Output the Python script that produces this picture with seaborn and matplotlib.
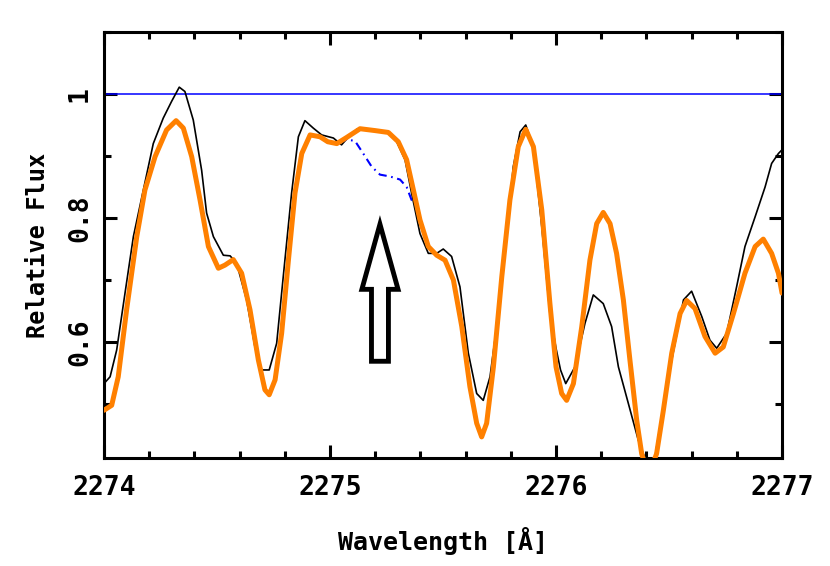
import matplotlib
matplotlib.use("Agg")
import matplotlib.pyplot as plt
from matplotlib.patches import FancyArrow
from matplotlib.ticker import MultipleLocator, FuncFormatter
import seaborn as sns

# observed spectrum (black)
obs_wave = [2274.000, 2274.027, 2274.056, 2274.093, 2274.130, 2274.174, 2274.218,
            2274.262, 2274.299, 2274.333, 2274.358, 2274.395, 2274.432, 2274.454,
            2274.484, 2274.528, 2274.558, 2274.587, 2274.631, 2274.668, 2274.698,
            2274.731, 2274.764, 2274.793, 2274.830, 2274.860, 2274.889, 2274.926,
            2274.963, 2275.015, 2275.051, 2275.080, 2275.118, 2275.185, 2275.251,
            2275.295, 2275.332, 2275.361, 2275.398, 2275.435, 2275.472, 2275.501,
            2275.538, 2275.575, 2275.612, 2275.649, 2275.678, 2275.708, 2275.745,
            2275.782, 2275.811, 2275.841, 2275.866, 2275.900, 2275.937, 2275.973,
            2276.000, 2276.020, 2276.043, 2276.084, 2276.128, 2276.165, 2276.209,
            2276.246, 2276.276, 2276.320, 2276.364, 2276.394, 2276.415, 2276.438,
            2276.475, 2276.512, 2276.564, 2276.600, 2276.645, 2276.681, 2276.711,
            2276.755, 2276.799, 2276.836, 2276.881, 2276.925, 2276.954, 2276.984,
            2277.000]
obs_flux = [0.533, 0.544, 0.587, 0.679, 0.770, 0.845, 0.920,
            0.961, 0.988, 1.011, 1.004, 0.958, 0.877, 0.808,
            0.770, 0.740, 0.739, 0.727, 0.668, 0.592, 0.555,
            0.555, 0.598, 0.705, 0.840, 0.931, 0.957, 0.945,
            0.934, 0.929, 0.918, 0.930, 0.943, 0.941, 0.939,
            0.923, 0.894, 0.840, 0.775, 0.743, 0.743, 0.750,
            0.738, 0.689, 0.582, 0.517, 0.506, 0.544, 0.646,
            0.775, 0.883, 0.939, 0.950, 0.915, 0.786, 0.646,
            0.590, 0.555, 0.533, 0.560, 0.630, 0.676, 0.662,
            0.625, 0.560, 0.501, 0.442, 0.412, 0.400, 0.415,
            0.495, 0.571, 0.668, 0.682, 0.641, 0.603, 0.590,
            0.614, 0.689, 0.754, 0.802, 0.850, 0.888, 0.904,
            0.910]

# synthetic spectrum (orange)
syn_wave = [2274.000, 2274.034, 2274.063, 2274.100, 2274.145, 2274.181, 2274.226,
            2274.277, 2274.319, 2274.351, 2274.388, 2274.425, 2274.462, 2274.506,
            2274.535, 2274.572, 2274.609, 2274.646, 2274.683, 2274.712, 2274.731,
            2274.757, 2274.786, 2274.816, 2274.845, 2274.875, 2274.912, 2274.956,
            2274.990, 2275.030, 2275.074, 2275.133, 2275.199, 2275.258, 2275.302,
            2275.339, 2275.369, 2275.398, 2275.435, 2275.472, 2275.509, 2275.546,
            2275.583, 2275.619, 2275.649, 2275.671, 2275.693, 2275.723, 2275.760,
            2275.796, 2275.833, 2275.866, 2275.900, 2275.937, 2275.973, 2276.000,
            2276.025, 2276.047, 2276.077, 2276.114, 2276.150, 2276.180, 2276.209,
            2276.239, 2276.268, 2276.298, 2276.327, 2276.357, 2276.379, 2276.410,
            2276.445, 2276.475, 2276.512, 2276.549, 2276.578, 2276.615, 2276.659,
            2276.704, 2276.740, 2276.785, 2276.836, 2276.881, 2276.917, 2276.954,
            2276.984, 2277.000]
syn_flux = [0.490, 0.498, 0.544, 0.652, 0.770, 0.845, 0.899,
            0.942, 0.957, 0.945, 0.899, 0.829, 0.754, 0.719,
            0.724, 0.733, 0.711, 0.652, 0.571, 0.523, 0.515,
            0.539, 0.614, 0.732, 0.840, 0.904, 0.934, 0.931,
            0.923, 0.920, 0.930, 0.944, 0.941, 0.938, 0.923,
            0.894, 0.845, 0.797, 0.754, 0.740, 0.732, 0.700,
            0.625, 0.528, 0.469, 0.447, 0.469, 0.560, 0.705,
            0.829, 0.915, 0.943, 0.915, 0.813, 0.662, 0.560,
            0.517, 0.506, 0.533, 0.625, 0.732, 0.791, 0.809,
            0.791, 0.743, 0.668, 0.571, 0.474, 0.420, 0.385,
            0.420, 0.490, 0.582, 0.646, 0.667, 0.654, 0.609,
            0.582, 0.592, 0.646, 0.711, 0.754, 0.766, 0.743,
            0.711, 0.679]

# synthetic spectrum without the marked line (blue dash-dot)
noline_wave = [2275.040, 2275.074, 2275.111, 2275.147, 2275.184, 2275.221,
               2275.265, 2275.310, 2275.339, 2275.361, 2275.380]
noline_flux = [0.921, 0.927, 0.924, 0.904, 0.883, 0.870,
               0.867, 0.862, 0.850, 0.829, 0.822]

continuum = 1.0
xlim = (2274, 2277)
ylim = (0.413, 1.1)

# hollow arrow marking the feature
arrow_x = 2275.221
arrow_base = 0.569
arrow_tip = 0.790
arrow_head_base = 0.685
arrow_shaft_w = 0.075
arrow_head_w = 0.16

sns.set_theme(style="ticks")
plt.rcParams["font.family"] = ["DejaVu Sans Mono", "DejaVu Sans"]
plt.rcParams["font.weight"] = "bold"
for key in ("text.color", "axes.labelcolor", "xtick.color", "ytick.color", "axes.edgecolor"):
    plt.rcParams[key] = "black"

fig = plt.figure(figsize=(8.3, 5.66), dpi=100)
ax = fig.add_axes([0.1253, 0.1908, 0.8169, 0.7527])

ax.axhline(continuum, color="#0000ff", lw=1.1, zorder=1)
sns.lineplot(x=obs_wave, y=obs_flux, color="black", lw=1.2,
             estimator=None, sort=False, ax=ax, zorder=2)
sns.lineplot(x=noline_wave, y=noline_flux, color="#0000ff", lw=1.5,
             estimator=None, sort=False, ax=ax, zorder=2)
ax.lines[-1].set_dashes((4, 2.2, 0.8, 2.2))
sns.lineplot(x=syn_wave, y=syn_flux, color="#ff8000", lw=3.6,
             estimator=None, sort=False, ax=ax, zorder=3)
for ln in ax.lines:
    ln.set_solid_joinstyle("round")
    ln.set_solid_capstyle("round")

ax.add_patch(FancyArrow(arrow_x, arrow_base, 0, arrow_tip - arrow_base,
                        width=arrow_shaft_w, head_width=arrow_head_w,
                        head_length=arrow_tip - arrow_head_base,
                        length_includes_head=True, fc="white", ec="black",
                        lw=3.5, zorder=4))

ax.set_xlim(*xlim)
ax.set_ylim(*ylim)
ax.xaxis.set_major_locator(MultipleLocator(1))
ax.xaxis.set_minor_locator(MultipleLocator(0.2))
ax.yaxis.set_major_locator(MultipleLocator(0.2))
ax.yaxis.set_minor_locator(MultipleLocator(0.1))
ax.yaxis.set_major_formatter(FuncFormatter(lambda v, p: f"{v:g}"))

for s in ax.spines.values():
    s.set_linewidth(2.2)
    s.set_color("black")
ax.tick_params(which="both", direction="in", top=True, right=True,
               width=2.2, color="black", labelcolor="black", labelsize=19)
ax.tick_params(which="major", length=9.4)
ax.tick_params(which="minor", length=5)
ax.tick_params(axis="x", pad=12)
ax.tick_params(axis="y", pad=8, labelrotation=90)
for lab in ax.get_yticklabels():
    lab.set_va("center")

ax.set_xlabel("Wavelength [Å]", fontsize=18, fontweight="bold", color="black")
ax.set_ylabel("Relative Flux", fontsize=17, fontweight="bold", color="black")
ax.xaxis.set_label_coords(0.5, -0.162)
ax.yaxis.set_label_coords(-0.08, 0.5)

fig.savefig("out.png", dpi=100)
